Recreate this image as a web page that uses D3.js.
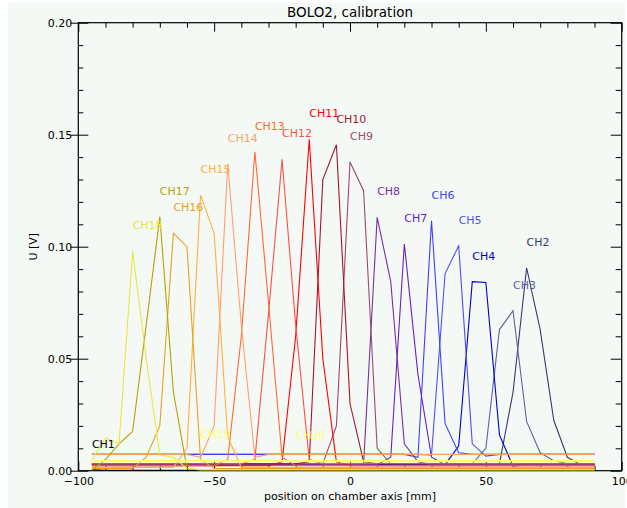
<!DOCTYPE html>
<html>
<head>
    <title>BOLO2 calibration</title>
    <script src='https://d3js.org/d3.v7.min.js' charset='utf-8'></script>
    <style type="text/css">
        body { margin: 0; background: #ffffff; }
        .chart text { font-family: 'DejaVu Sans', sans-serif; }
        .axis text { font-size: 11px; fill: #000; }
        .axis line { stroke: #000; }
    </style>
</head>
<body>
    <svg class='chart'></svg>

    <script type='text/javascript'>
    // scan positions along the chamber axis [mm]
    var positions = [-95, -90, -85, -80, -75, -70, -65, -60, -55, -50,
                     -45, -40, -35, -30, -25, -20, -15, -10, -5, 0,
                     5, 10, 15, 20, 25, 30, 35, 40, 45, 50,
                     55, 60, 65, 70, 75, 80, 85, 90];

    var channels = ['CH1', 'CH2', 'CH3', 'CH4', 'CH5', 'CH6', 'CH7', 'CH8', 'CH9', 'CH10',
                    'CH11', 'CH12', 'CH13', 'CH14', 'CH15', 'CH16', 'CH17', 'CH18', 'CH19', 'CH20'];

    var colors = ['#000000', '#3a3a6a', '#6060a0', '#0000cc', '#5050ee', '#4040ff', '#6a20c0', '#7a30a0', '#9a4a70', '#a01830',
                  '#ff0000', '#ff5048', '#ff6a30', '#ffa070', '#ffb040', '#e8a020', '#b4a400', '#e8e840', '#ffff60', '#ffff70'];

    // signal [V] per channel, one value per position
    var ch1  = [0.0004, 0.0002, 0.0002, 0.0002, 0.0002, 0.0002, 0.0002, 0.0002, 0.0002, 0.0002,
                0.0002, 0.0002, 0.0002, 0.0002, 0.0002, 0.0002, 0.0002, 0.0002, 0.0002, 0.0002,
                0.0002, 0.0002, 0.0002, 0.0002, 0.0002, 0.0002, 0.0002, 0.0002, 0.0002, 0.0002,
                0.0002, 0.0002, 0.0002, 0.0002, 0.0002, 0.0002, 0.0002, 0.0002];
    var ch2  = [0.0027, 0.0027, 0.0027, 0.0027, 0.0027, 0.0027, 0.0027, 0.0027, 0.0027, 0.0027,
                0.0027, 0.0027, 0.0027, 0.0027, 0.0027, 0.0027, 0.0027, 0.0027, 0.0027, 0.0027,
                0.0027, 0.0027, 0.0027, 0.0027, 0.0027, 0.0027, 0.0027, 0.0027, 0.0027, 0.0027,
                0.0030, 0.0350, 0.0906, 0.0630, 0.0225, 0.0060, 0.0027, 0.0027];
    var ch3  = [0.0031, 0.0031, 0.0031, 0.0031, 0.0031, 0.0031, 0.0031, 0.0031, 0.0031, 0.0031,
                0.0031, 0.0031, 0.0031, 0.0031, 0.0031, 0.0031, 0.0031, 0.0031, 0.0031, 0.0031,
                0.0031, 0.0031, 0.0031, 0.0031, 0.0031, 0.0031, 0.0031, 0.0031, 0.0031, 0.0100,
                0.0630, 0.0714, 0.0220, 0.0080, 0.0045, 0.0031, 0.0031, 0.0031];
    var ch4  = [0.0027, 0.0027, 0.0027, 0.0027, 0.0027, 0.0027, 0.0027, 0.0027, 0.0027, 0.0027,
                0.0027, 0.0027, 0.0027, 0.0027, 0.0027, 0.0027, 0.0027, 0.0027, 0.0027, 0.0027,
                0.0027, 0.0027, 0.0027, 0.0027, 0.0027, 0.0027, 0.0027, 0.0110, 0.0844, 0.0840,
                0.0160, 0.0020, 0.0027, 0.0027, 0.0027, 0.0027, 0.0027, 0.0027];
    var ch5  = [0.0073, 0.0073, 0.0073, 0.0073, 0.0073, 0.0073, 0.0073, 0.0073, 0.0073, 0.0073,
                0.0073, 0.0073, 0.0073, 0.0073, 0.0073, 0.0073, 0.0073, 0.0073, 0.0073, 0.0073,
                0.0073, 0.0073, 0.0073, 0.0073, 0.0073, 0.0070, 0.0880, 0.1004, 0.0120, 0.0065,
                0.0073, 0.0073, 0.0073, 0.0073, 0.0073, 0.0073, 0.0073, 0.0073];
    var ch6  = [0.0073, 0.0073, 0.0073, 0.0073, 0.0073, 0.0073, 0.0073, 0.0073, 0.0073, 0.0073,
                0.0073, 0.0073, 0.0073, 0.0073, 0.0073, 0.0073, 0.0073, 0.0073, 0.0073, 0.0073,
                0.0073, 0.0073, 0.0073, 0.0073, 0.0060, 0.1116, 0.0210, 0.0080, 0.0073, 0.0073,
                0.0073, 0.0073, 0.0073, 0.0073, 0.0073, 0.0073, 0.0073, 0.0073];
    var ch7  = [0.0027, 0.0027, 0.0027, 0.0027, 0.0027, 0.0027, 0.0027, 0.0027, 0.0027, 0.0027,
                0.0027, 0.0027, 0.0027, 0.0027, 0.0027, 0.0027, 0.0027, 0.0027, 0.0027, 0.0027,
                0.0027, 0.0027, 0.0060, 0.1012, 0.0430, 0.0060, 0.0027, 0.0027, 0.0027, 0.0027,
                0.0027, 0.0027, 0.0027, 0.0027, 0.0027, 0.0027, 0.0027, 0.0027];
    var ch8  = [0.0027, 0.0027, 0.0027, 0.0027, 0.0027, 0.0027, 0.0027, 0.0027, 0.0027, 0.0027,
                0.0027, 0.0027, 0.0027, 0.0027, 0.0027, 0.0027, 0.0027, 0.0027, 0.0027, 0.0027,
                0.0030, 0.1131, 0.0844, 0.0120, 0.0040, 0.0027, 0.0027, 0.0027, 0.0027, 0.0027,
                0.0027, 0.0027, 0.0027, 0.0027, 0.0027, 0.0027, 0.0027, 0.0027];
    var ch9  = [0.0031, 0.0031, 0.0031, 0.0031, 0.0031, 0.0031, 0.0031, 0.0031, 0.0031, 0.0031,
                0.0031, 0.0031, 0.0031, 0.0031, 0.0031, 0.0031, 0.0031, 0.0031, 0.0200, 0.1378,
                0.1250, 0.0100, 0.0031, 0.0031, 0.0031, 0.0031, 0.0031, 0.0031, 0.0031, 0.0031,
                0.0031, 0.0031, 0.0031, 0.0031, 0.0031, 0.0031, 0.0031, 0.0031];
    var ch10 = [0.0031, 0.0031, 0.0031, 0.0031, 0.0031, 0.0031, 0.0031, 0.0031, 0.0031, 0.0031,
                0.0031, 0.0031, 0.0031, 0.0031, 0.0031, 0.0031, 0.0040, 0.1300, 0.1455, 0.0300,
                0.0040, 0.0031, 0.0031, 0.0031, 0.0031, 0.0031, 0.0031, 0.0031, 0.0031, 0.0031,
                0.0031, 0.0031, 0.0031, 0.0031, 0.0031, 0.0031, 0.0031, 0.0031];
    var ch11 = [0.0022, 0.0022, 0.0022, 0.0022, 0.0022, 0.0022, 0.0022, 0.0022, 0.0022, 0.0022,
                0.0022, 0.0022, 0.0022, 0.0022, 0.0040, 0.0600, 0.1480, 0.0500, 0.0040, 0.0022,
                0.0022, 0.0022, 0.0022, 0.0022, 0.0022, 0.0022, 0.0022, 0.0022, 0.0022, 0.0022,
                0.0022, 0.0022, 0.0022, 0.0022, 0.0022, 0.0022, 0.0022, 0.0022];
    var ch12 = [0.0031, 0.0031, 0.0031, 0.0031, 0.0031, 0.0031, 0.0031, 0.0031, 0.0031, 0.0031,
                0.0031, 0.0031, 0.0050, 0.0700, 0.1390, 0.0650, 0.0050, 0.0031, 0.0031, 0.0031,
                0.0031, 0.0031, 0.0031, 0.0031, 0.0031, 0.0031, 0.0031, 0.0031, 0.0031, 0.0031,
                0.0031, 0.0031, 0.0031, 0.0031, 0.0031, 0.0031, 0.0031, 0.0031];
    var ch13 = [0.0022, 0.0022, 0.0022, 0.0022, 0.0022, 0.0022, 0.0022, 0.0022, 0.0022, 0.0022,
                0.0050, 0.0600, 0.1424, 0.0750, 0.0060, 0.0022, 0.0022, 0.0022, 0.0022, 0.0022,
                0.0022, 0.0022, 0.0022, 0.0022, 0.0022, 0.0022, 0.0022, 0.0022, 0.0022, 0.0022,
                0.0022, 0.0022, 0.0022, 0.0022, 0.0022, 0.0022, 0.0022, 0.0022];
    var ch14 = [0.0073, 0.0073, 0.0073, 0.0073, 0.0073, 0.0073, 0.0073, 0.0073, 0.0060, 0.0200,
                0.1370, 0.0650, 0.0060, 0.0073, 0.0073, 0.0073, 0.0073, 0.0073, 0.0073, 0.0073,
                0.0073, 0.0073, 0.0073, 0.0073, 0.0073, 0.0073, 0.0073, 0.0073, 0.0073, 0.0073,
                0.0073, 0.0073, 0.0073, 0.0073, 0.0073, 0.0073, 0.0073, 0.0073];
    var ch15 = [0.0015, 0.0015, 0.0015, 0.0015, 0.0015, 0.0015, 0.0015, 0.0100, 0.1230, 0.1060,
                0.0150, 0.0015, 0.0015, 0.0015, 0.0015, 0.0015, 0.0015, 0.0015, 0.0015, 0.0015,
                0.0015, 0.0015, 0.0015, 0.0015, 0.0015, 0.0015, 0.0015, 0.0015, 0.0015, 0.0015,
                0.0015, 0.0015, 0.0015, 0.0015, 0.0015, 0.0015, 0.0015, 0.0015];
    var ch16 = [0.0010, 0.0010, 0.0010, 0.0010, 0.0060, 0.0200, 0.1060, 0.1000, 0.0050, 0.0010,
                0.0010, 0.0010, 0.0010, 0.0010, 0.0010, 0.0010, 0.0010, 0.0010, 0.0010, 0.0010,
                0.0010, 0.0010, 0.0010, 0.0010, 0.0010, 0.0010, 0.0010, 0.0010, 0.0010, 0.0010,
                0.0010, 0.0010, 0.0010, 0.0010, 0.0010, 0.0010, 0.0010, 0.0010];
    var ch17 = [0.0003, 0.0050, 0.0120, 0.0175, 0.0650, 0.1134, 0.0350, 0.0010, 0.0003, 0.0003,
                0.0003, 0.0003, 0.0003, 0.0003, 0.0003, 0.0003, 0.0003, 0.0003, 0.0003, 0.0003,
                0.0003, 0.0003, 0.0003, 0.0003, 0.0003, 0.0003, 0.0003, 0.0003, 0.0003, 0.0003,
                0.0003, 0.0003, 0.0003, 0.0003, 0.0003, 0.0003, 0.0003, 0.0003];
    var ch18 = [0.0048, 0.0145, 0.0122, 0.0980, 0.0500, 0.0070, 0.0060, 0.0010, 0.0005, 0.0005,
                0.0005, 0.0005, 0.0005, 0.0005, 0.0005, 0.0005, 0.0005, 0.0005, 0.0005, 0.0005,
                0.0005, 0.0005, 0.0005, 0.0005, 0.0005, 0.0005, 0.0005, 0.0005, 0.0005, 0.0005,
                0.0005, 0.0005, 0.0005, 0.0005, 0.0005, 0.0005, 0.0005, 0.0005];
    var ch19 = [0.0045, 0.0045, 0.0045, 0.0045, 0.0045, 0.0045, 0.0045, 0.0045, 0.0047, 0.0045,
                0.0045, 0.0045, 0.0045, 0.0045, 0.0045, 0.0045, 0.0045, 0.0045, 0.0045, 0.0045,
                0.0045, 0.0045, 0.0045, 0.0045, 0.0045, 0.0045, 0.0045, 0.0045, 0.0045, 0.0045,
                0.0045, 0.0045, 0.0045, 0.0045, 0.0045, 0.0045, 0.0045, 0.0045];
    var ch20 = [0.0040, 0.0040, 0.0040, 0.0040, 0.0040, 0.0040, 0.0040, 0.0040, 0.0040, 0.0040,
                0.0040, 0.0040, 0.0040, 0.0040, 0.0040, 0.0042, 0.0040, 0.0040, 0.0040, 0.0040,
                0.0040, 0.0040, 0.0040, 0.0040, 0.0040, 0.0040, 0.0040, 0.0040, 0.0040, 0.0040,
                0.0040, 0.0040, 0.0040, 0.0040, 0.0040, 0.0040, 0.0040, 0.0040];

    var signals = [ch1, ch2, ch3, ch4, ch5, ch6, ch7, ch8, ch9, ch10,
                   ch11, ch12, ch13, ch14, ch15, ch16, ch17, ch18, ch19, ch20];

    var xMajor = [-100, -50, 0, 50, 100];
    var yMajor = [0.00, 0.05, 0.10, 0.15, 0.20];

    var width = 627;
    var height = 508;
    var plotL = 78.3, plotR = 621.7, plotT = 22.7, plotB = 470.7;

    var chart = d3.select('.chart')
        .attr('width', width)
        .attr('height', height);

    chart.append('rect')
        .attr('x', 8).attr('y', 3)
        .attr('width', 617).attr('height', 505)
        .attr('fill', '#f5f9f5');

    var x = d3.scaleLinear().domain([-100, 100]).range([plotL, plotR]);
    var y = d3.scaleLinear().domain([0, 0.2]).range([plotB, plotT]);

    var xMinor = d3.range(-100, 101, 10).filter(function (v) { return xMajor.indexOf(v) < 0; });
    var yMinor = d3.range(0, 21, 1).map(function (v) { return v / 100; })
        .filter(function (v) { return Math.round(v * 100) % 5 !== 0; });

    function addAxis(axis, tr) {
        var g = chart.append('g').attr('class', 'axis').attr('transform', tr).call(axis);
        g.select('.domain').remove();
        return g;
    }

    // major ticks with labels (bottom, left)
    addAxis(d3.axisBottom(x).tickValues(xMajor).tickSize(-9).tickPadding(7)
        .tickFormat(d3.format('d')), 'translate(0,' + plotB + ')');
    addAxis(d3.axisLeft(y).tickValues(yMajor).tickSize(-10).tickPadding(6)
        .tickFormat(d3.format('.2f')), 'translate(' + plotL + ',0)');
    addAxis(d3.axisLeft(y).tickValues(yMajor).tickSize(8).tickFormat(''), 'translate(' + plotL + ',0)');
    // minor ticks
    addAxis(d3.axisBottom(x).tickValues(xMinor).tickSize(-5).tickFormat(''), 'translate(0,' + plotB + ')');
    addAxis(d3.axisLeft(y).tickValues(yMinor).tickSize(-5).tickFormat(''), 'translate(' + plotL + ',0)');
    // top and right
    addAxis(d3.axisTop(x).tickValues(xMajor).tickSize(-9).tickFormat(''), 'translate(0,' + plotT + ')');
    addAxis(d3.axisTop(x).tickValues(xMinor).tickSize(-5).tickFormat(''), 'translate(0,' + plotT + ')');
    addAxis(d3.axisRight(y).tickValues(yMajor).tickSize(-11).tickFormat(''), 'translate(' + plotR + ',0)');
    addAxis(d3.axisRight(y).tickValues(yMinor).tickSize(-6).tickFormat(''), 'translate(' + plotR + ',0)');

    chart.append('rect')
        .attr('x', plotL).attr('y', plotT)
        .attr('width', plotR - plotL).attr('height', plotB - plotT)
        .attr('fill', 'none').attr('stroke', '#000').attr('stroke-width', 1.2);

    var line = d3.line()
        .x(function (d) { return x(d[0]); })
        .y(function (d) { return y(d[1]); });

    var curves = chart.append('g');
    signals.forEach(function (s, i) {
        var pts = positions.map(function (p, j) { return [p, s[j]]; });
        curves.append('path')
            .attr('d', line(pts))
            .attr('fill', 'none')
            .attr('stroke', colors[i])
            .attr('stroke-width', 1.1);
    });

    // channel names at the maximum of each curve
    var labels = chart.append('g');
    signals.forEach(function (s, i) {
        var k = d3.maxIndex(s);
        labels.append('text')
            .attr('x', x(positions[k]))
            .attr('y', y(s[k]) - 22)
            .attr('fill', colors[i])
            .style('font-size', '11px')
            .text(channels[i]);
    });

    chart.append('text')
        .attr('x', (plotL + plotR) / 2).attr('y', 17)
        .attr('text-anchor', 'middle')
        .style('font-size', '13.5px')
        .text('BOLO2, calibration');

    chart.append('text')
        .attr('x', (plotL + plotR) / 2).attr('y', 500)
        .attr('text-anchor', 'middle')
        .style('font-size', '11px')
        .text('position on chamber axis [mm]');

    chart.append('text')
        .attr('transform', 'translate(37,' + ((plotT + plotB) / 2) + ') rotate(-90)')
        .attr('text-anchor', 'middle')
        .style('font-size', '11px')
        .text('U [V]');
    </script>
</body>
</html>
